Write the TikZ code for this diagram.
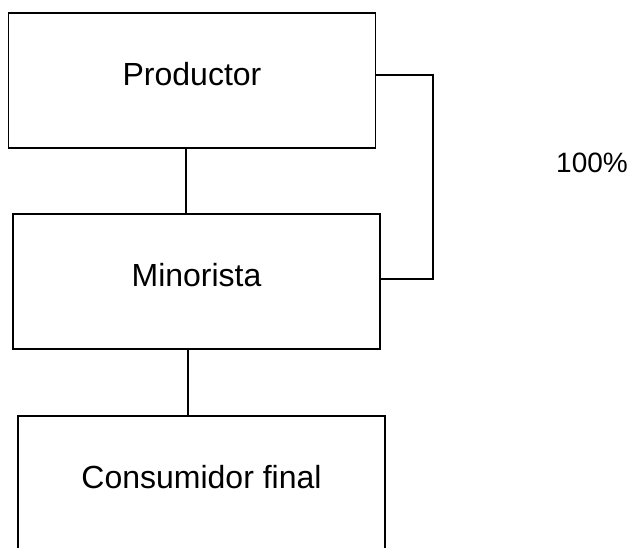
\documentclass[tikz,border=0pt]{standalone}
\usepackage{fontspec}
\setmainfont{Liberation Sans}
\begin{document}
\begin{tikzpicture}[x=1pt,y=-1pt,
  stage/.style={draw=black, line width=1.8pt, rectangle, minimum width=367pt,
    minimum height=135pt, inner sep=0pt, font=\fontsize{32}{38}\selectfont,
    text height=23pt, text depth=14pt},
  link/.style={draw=black, line width=1.2pt},
  note/.style={font=\fontsize{28}{34}\selectfont, inner sep=0pt}]
\useasboundingbox (0,0) rectangle (643,547);

% channel stages
\node[stage] (prod) at (192,80.5) {Productor};
\node[stage] (mino) at (196.5,281.5) {Minorista};
\node[stage] (cons) at (201.5,483.5) {Consumidor final};

% share of the channel
\node[note] (pct) at (592,162.5) {100\%};

% vertical links between stages
\draw[link] (prod.south -| 186,0) -- (mino.north -| 186,0);
\draw[link] (mino.south -| 188,0) -- (cons.north -| 188,0);

% bracket joining producer and retailer
\coordinate (bt) at (433,75);
\coordinate (bb) at (433,279);
\draw[link] (prod.east |- bt) -- (bt) -- (bb) -- (mino.east |- bb);
\end{tikzpicture}
\end{document}
